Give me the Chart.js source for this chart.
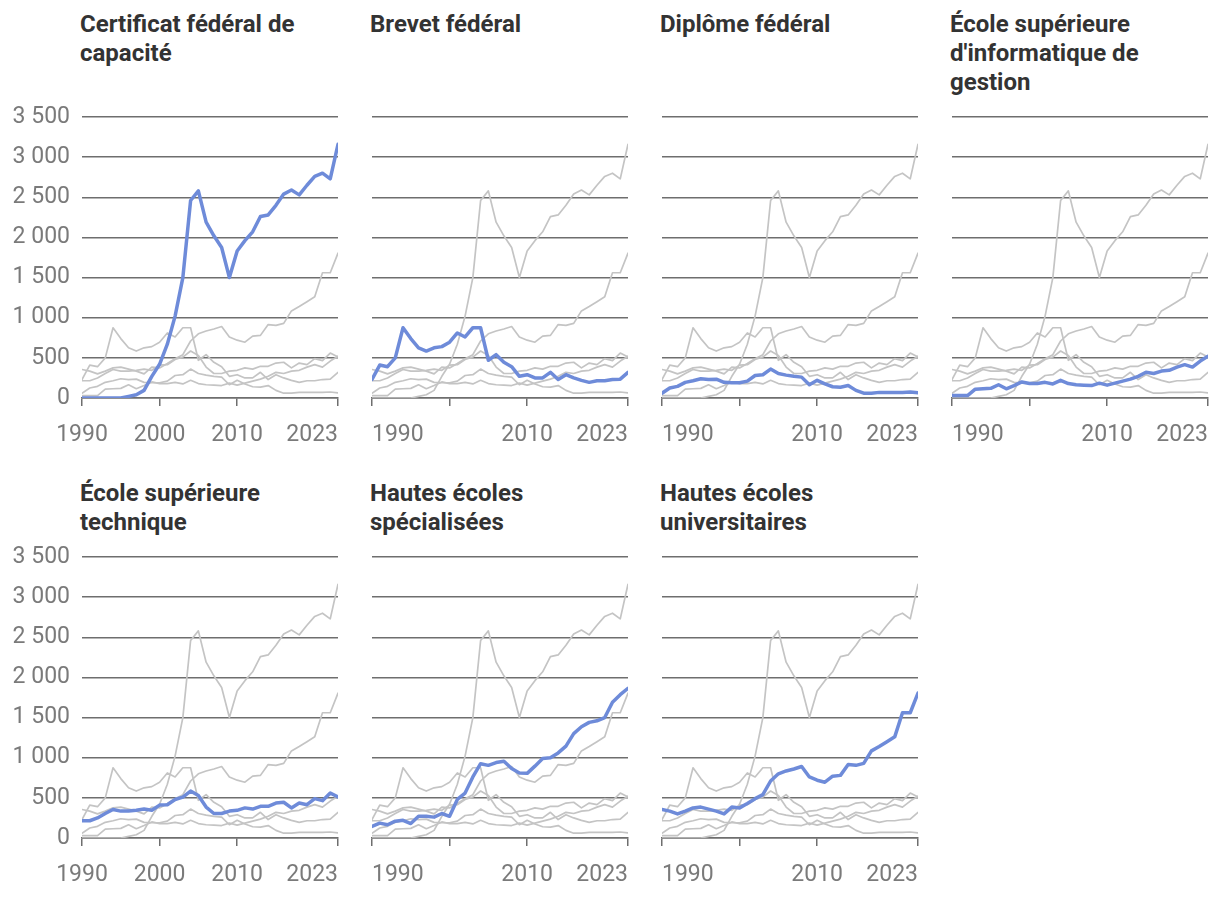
<!DOCTYPE html>
<html lang="fr">
<head>
<meta charset="utf-8">
<script src="https://cdn.jsdelivr.net/npm/chart.js@4.4.1/dist/chart.umd.min.js"></script>
<style>
  html, body { margin: 0; padding: 0; background: #fff; }
  #wrap { position: relative; width: 1220px; height: 898px; overflow: hidden; font-family: Roboto, sans-serif; }
  .title { position: absolute; width: 262px; font-weight: 700; font-size: 24px; line-height: 29px; color: #333; }
  canvas { position: absolute; }
</style>
</head>
<body>
<div id="wrap"></div>
<script>
// Data
const years = [1990, 1991, 1992, 1993, 1994, 1995, 1996, 1997, 1998, 1999,
               2000, 2001, 2002, 2003, 2004, 2005, 2006, 2007, 2008, 2009,
               2010, 2011, 2012, 2013, 2014, 2015, 2016, 2017, 2018, 2019,
               2020, 2021, 2022, 2023];

const cfc      = [0, 0, 0, 0, 0, 0, 20, 40, 95, 270, 420, 670, 1020, 1500, 2460, 2580, 2190, 2020, 1875, 1500,
                  1830, 1960, 2070, 2260, 2280, 2400, 2540, 2590, 2530, 2650, 2760, 2800, 2730, 3160];
const brevet   = [230, 410, 390, 500, 875, 740, 625, 585, 625, 640, 695, 810, 760, 875, 875, 470, 540, 445, 390, 270,
                  290, 250, 250, 320, 230, 290, 250, 220, 195, 215, 215, 230, 235, 320];
const diplome  = [60, 125, 145, 195, 215, 240, 230, 235, 195, 190, 190, 210, 280, 290, 360, 305, 285, 270, 260, 165,
                  220, 175, 140, 135, 155, 95, 60, 60, 70, 70, 70, 70, 75, 65];
const esig     = [30, 30, 30, 110, 115, 120, 165, 115, 155, 200, 180, 180, 195, 175, 220, 180, 165, 160, 155, 185,
                  160, 185, 210, 235, 270, 320, 305, 335, 345, 385, 415, 385, 460, 520];
const esTech   = [215, 215, 250, 305, 355, 335, 335, 345, 360, 345, 410, 415, 480, 510, 585, 530, 385, 305, 305, 335,
                  345, 375, 360, 395, 395, 435, 445, 375, 435, 415, 490, 465, 560, 510];
const hes      = [145, 185, 165, 210, 220, 180, 270, 270, 260, 305, 270, 480, 560, 760, 925, 905, 940, 955, 865, 810,
                  805, 895, 990, 1000, 1060, 1145, 1300, 1385, 1440, 1460, 1500, 1690, 1785, 1865];
const heu      = [355, 335, 300, 335, 375, 385, 360, 335, 300, 385, 375, 430, 490, 540, 710, 800, 835, 860, 890, 760,
                  720, 695, 770, 780, 915, 905, 930, 1085, 1140, 1200, 1260, 1560, 1560, 1805];

const titles = [
  'Certificat fédéral de capacité',
  'Brevet fédéral',
  'Diplôme fédéral',
  'École supérieure d\'informatique de gestion',
  'École supérieure technique',
  'Hautes écoles spécialisées',
  'Hautes écoles universitaires'
];
const seriesList = [cfc, brevet, diplome, esig, esTech, hes, heu];
// grey context lines shown behind every panel (HES is not among them in the original)
const contextSeries = [cfc, brevet, diplome, esig, esTech, heu];

const xTickValues = [1990, 2000, 2010, 2023];
const yTickValues = [0, 500, 1000, 1500, 2000, 2500, 3000, 3500];

// Layout
const plotLefts = [82, 372, 662, 952];
const rowTops = [117, 557];
const titleTops = [10, 479];
const plotW = 256;
const plotH = 281;
const axisH = 50;
const padTop = 16;

const BLUE = '#6e8bd9';
const GREY = '#c4c4c4';
const GRID = '#6e6e6e';
const LABEL = '#7a7a7a';

function formatThousands(v) {
    if (v < 1000) return String(v);
    const thousands = Math.floor(v / 1000);
    const rest = String(v % 1000).padStart(3, '0');
    return thousands + ' ' + rest;
}

function toPoints(values) {
    return values.map((v, i) => ({ x: years[i], y: v }));
}

// first x label centred in the first column, like the original
const firstLabelCenter = {
    id: 'firstLabelCenter',
    beforeDraw(chart, args, opts) {
        if (!opts.enabled) return;
        const items = chart.scales.x.getLabelItems();
        if (items.length) items[0].options.textAlign = 'center';
    }
};

const wrap = document.getElementById('wrap');

seriesList.forEach((highlight, k) => {
    const col = k % 4;
    const row = Math.floor(k / 4);
    const firstCol = col === 0;

    // title
    const t = document.createElement('div');
    t.className = 'title';
    t.textContent = titles[k];
    t.style.left = (plotLefts[col] - 2) + 'px';
    t.style.top = titleTops[row] + 'px';
    wrap.appendChild(t);

    // canvas
    const left = firstCol ? 0 : plotLefts[col] - 4;
    const width = plotLefts[col] + plotW + 5 - left;
    const height = padTop + plotH + axisH;
    const canvas = document.createElement('canvas');
    canvas.width = width;
    canvas.height = height;
    canvas.style.left = left + 'px';
    canvas.style.top = (rowTops[row] - padTop) + 'px';
    canvas.style.width = width + 'px';
    canvas.style.height = height + 'px';
    wrap.appendChild(canvas);

    const datasets = [];
    contextSeries.forEach((s) => {
        if (s === highlight) return;
        datasets.push({
            data: toPoints(s),
            borderColor: GREY,
            borderWidth: 1.7,
            order: 1
        });
    });
    datasets.push({
        data: toPoints(highlight),
        borderColor: BLUE,
        borderWidth: 3.5,
        order: 0
    });

    new Chart(canvas.getContext('2d'), {
        type: 'line',
        data: { datasets: datasets },
        plugins: [firstLabelCenter],
        options: {
            responsive: false,
            animation: false,
            events: [],
            layout: { padding: { top: padTop, right: 5, bottom: 0, left: firstCol ? 0 : 4 } },
            elements: {
                point: { radius: 0 },
                line: { tension: 0, borderJoinStyle: 'round', borderCapStyle: 'round' }
            },
            scales: {
                x: {
                    type: 'linear',
                    min: years[0],
                    max: years[years.length - 1],
                    afterBuildTicks: (scale) => {
                        scale.ticks = xTickValues.map(v => ({ value: v }));
                    },
                    afterFit: (scale) => {
                        scale.height = axisH;
                        scale.paddingLeft = 0;
                        scale.paddingRight = 0;
                    },
                    grid: {
                        drawOnChartArea: false,
                        drawTicks: true,
                        tickLength: 8,
                        color: GRID,
                        lineWidth: 1.5
                    },
                    border: { display: true, color: GRID, width: 1.5 },
                    ticks: {
                        autoSkip: false,
                        maxRotation: 0,
                        align: 'inner',
                        padding: 15,
                        color: LABEL,
                        font: { family: 'Roboto', size: 23 },
                        callback: (v) => (!firstCol && v === 2000) ? '' : String(v)
                    }
                },
                y: {
                    min: 0,
                    max: 3500,
                    afterBuildTicks: (scale) => {
                        scale.ticks = yTickValues.map(v => ({ value: v }));
                    },
                    afterFit: (scale) => {
                        scale.width = firstCol ? 82 : 0;
                        scale.paddingTop = 0;
                        scale.paddingBottom = 0;
                    },
                    grid: {
                        drawTicks: false,
                        color: GRID,
                        lineWidth: 1.5
                    },
                    border: { display: false },
                    ticks: {
                        display: firstCol,
                        padding: 12,
                        color: LABEL,
                        font: { family: 'Roboto', size: 23 },
                        callback: (v) => formatThousands(v)
                    }
                }
            },
            plugins: {
                legend: { display: false },
                tooltip: { enabled: false },
                firstLabelCenter: { enabled: firstCol }
            }
        }
    });
});
</script>
</body>
</html>
